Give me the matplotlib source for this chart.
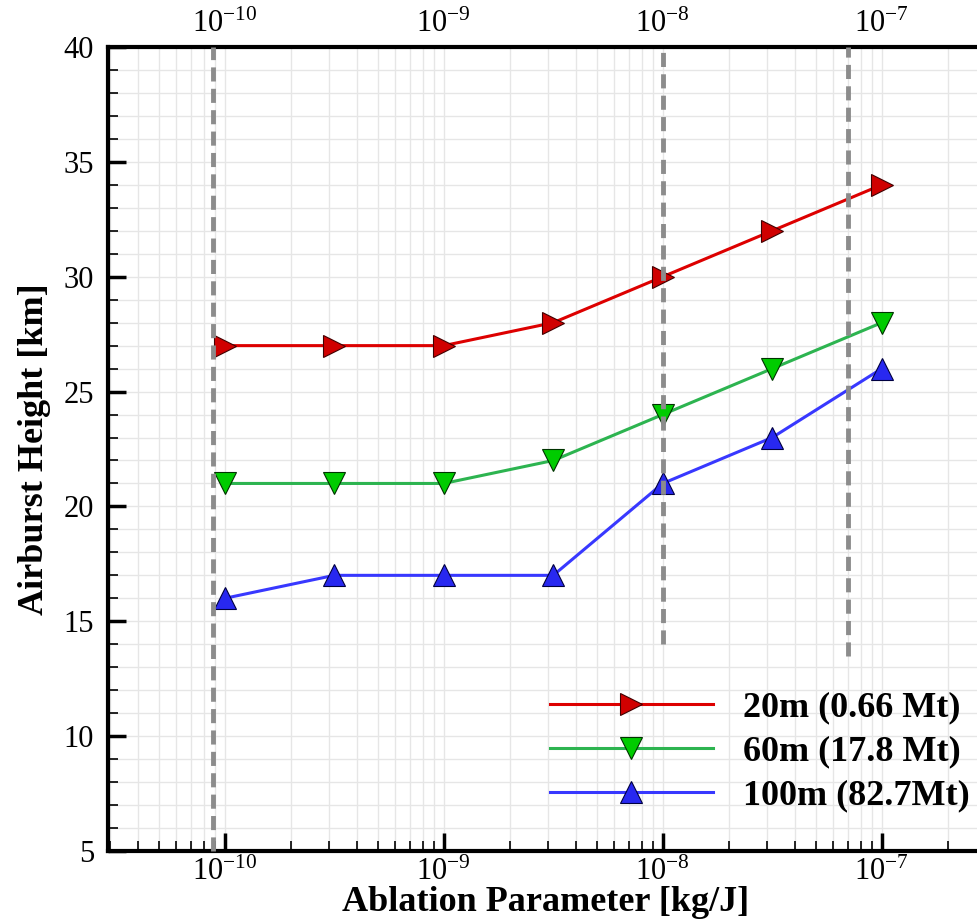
import numpy as np
import matplotlib
matplotlib.use("Agg")
import matplotlib.pyplot as plt
from matplotlib.ticker import FixedLocator, MultipleLocator, NullLocator, NullFormatter

plt.rcParams['font.family'] = 'serif'
plt.rcParams['font.serif'] = ['Liberation Serif', 'DejaVu Serif']
plt.rcParams['mathtext.fontset'] = 'custom'
plt.rcParams['mathtext.rm'] = 'Liberation Serif'
plt.rcParams['mathtext.it'] = 'Liberation Serif:italic'
plt.rcParams['mathtext.bf'] = 'Liberation Serif:bold'

# ablation parameter sweep (half-decade steps)
ablation = [1e-10, 10**-9.5, 1e-9, 10**-8.5, 1e-8, 10**-7.5, 1e-7]
h_20m = [27, 27, 27, 28, 30, 32, 34]
h_60m = [21, 21, 21, 22, 24, 26, 28]
h_100m = [16, 17, 17, 17, 21, 23, 26]
labels = ['20m (0.66 Mt)', '60m (17.8 Mt)', '100m (82.7Mt)']

# grey dashed guide lines: x position and lower end (km)
guide_x = [8.8e-11, 1e-8, 7e-8]
guide_low = [5, 14, 13.5]

major_x = [1e-10, 1e-9, 1e-8, 1e-7]
minor_x = [m * 10.0**e for e in range(-11, -6) for m in range(2, 10)]

fig = plt.figure(figsize=(9.78, 9.23), dpi=100)
ax = fig.add_axes([108/978, 72/923, 876/978, 804/923])

ax.set_xscale('log')
xlim = (2.93e-11, 2.93e-7)
ax.set_xlim(*xlim)
ax.set_ylim(5, 40)

ax.xaxis.set_major_locator(FixedLocator(major_x))
ax.xaxis.set_minor_locator(FixedLocator([m for m in minor_x if xlim[0] < m < xlim[1]]))
ax.xaxis.set_minor_formatter(NullFormatter())
ax.yaxis.set_major_locator(MultipleLocator(5))
ax.yaxis.set_minor_locator(MultipleLocator(1))

ax.grid(True, which='both', color='#e6e6e6', lw=1.0, zorder=0)
ax.set_axisbelow(True)

for s in ax.spines.values():
    s.set_linewidth(3)

ax.tick_params(which='both', direction='in', top=False, right=False)
ax.tick_params(which='major', length=13, width=2.5, labelsize=22)
ax.tick_params(which='minor', length=7, width=1.2)
ax.tick_params(axis='x', which='major', pad=5)
ax.tick_params(axis='y', which='major', pad=10)

ax.plot(ablation, h_20m, color='#dd0000', lw=2.2, marker='>', ms=16,
        mfc='#d00000', mec='#400000', mew=0.8, label=labels[0], zorder=3)
ax.plot(ablation, h_60m, color='#2db450', lw=2.2, marker='v', ms=16,
        mfc='#00cc00', mec='#003300', mew=0.8, label=labels[1], zorder=3)
ax.plot(ablation, h_100m, color='#3838ff', lw=2.2, marker='^', ms=16,
        mfc='#2828f0', mec='#000040', mew=0.8, label=labels[2], zorder=3)

for gx, lo in zip(guide_x, guide_low):
    ax.plot([gx, gx], [lo, 40], color='#8c8c8c', lw=3.5,
            ls=(0, (2.9, 1.5)), zorder=4, clip_on=False)

ax.set_xlabel('Ablation Parameter [kg/J]', fontsize=26, fontweight='bold', labelpad=-1)
ax.set_ylabel('Airburst Height [km]', fontsize=26, fontweight='bold', labelpad=9)

leg = ax.legend(loc='upper left', bbox_to_anchor=(550/978, 232/923),
                bbox_transform=fig.transFigure, frameon=False,
                prop={'weight': 'bold', 'size': 26}, handlelength=4.5,
                handletextpad=0.85, labelspacing=0.3, borderpad=0,
                borderaxespad=0, numpoints=1)

# labels along the top edge, no tick marks
top = ax.twiny()
top.set_xscale('log')
top.set_xlim(*xlim)
top.xaxis.set_major_locator(FixedLocator(major_x))
top.xaxis.set_minor_locator(NullLocator())
top.tick_params(axis='x', length=0, labelsize=22, pad=6)
for s in top.spines.values():
    s.set_visible(False)

fig.savefig('out.png', dpi=100)
